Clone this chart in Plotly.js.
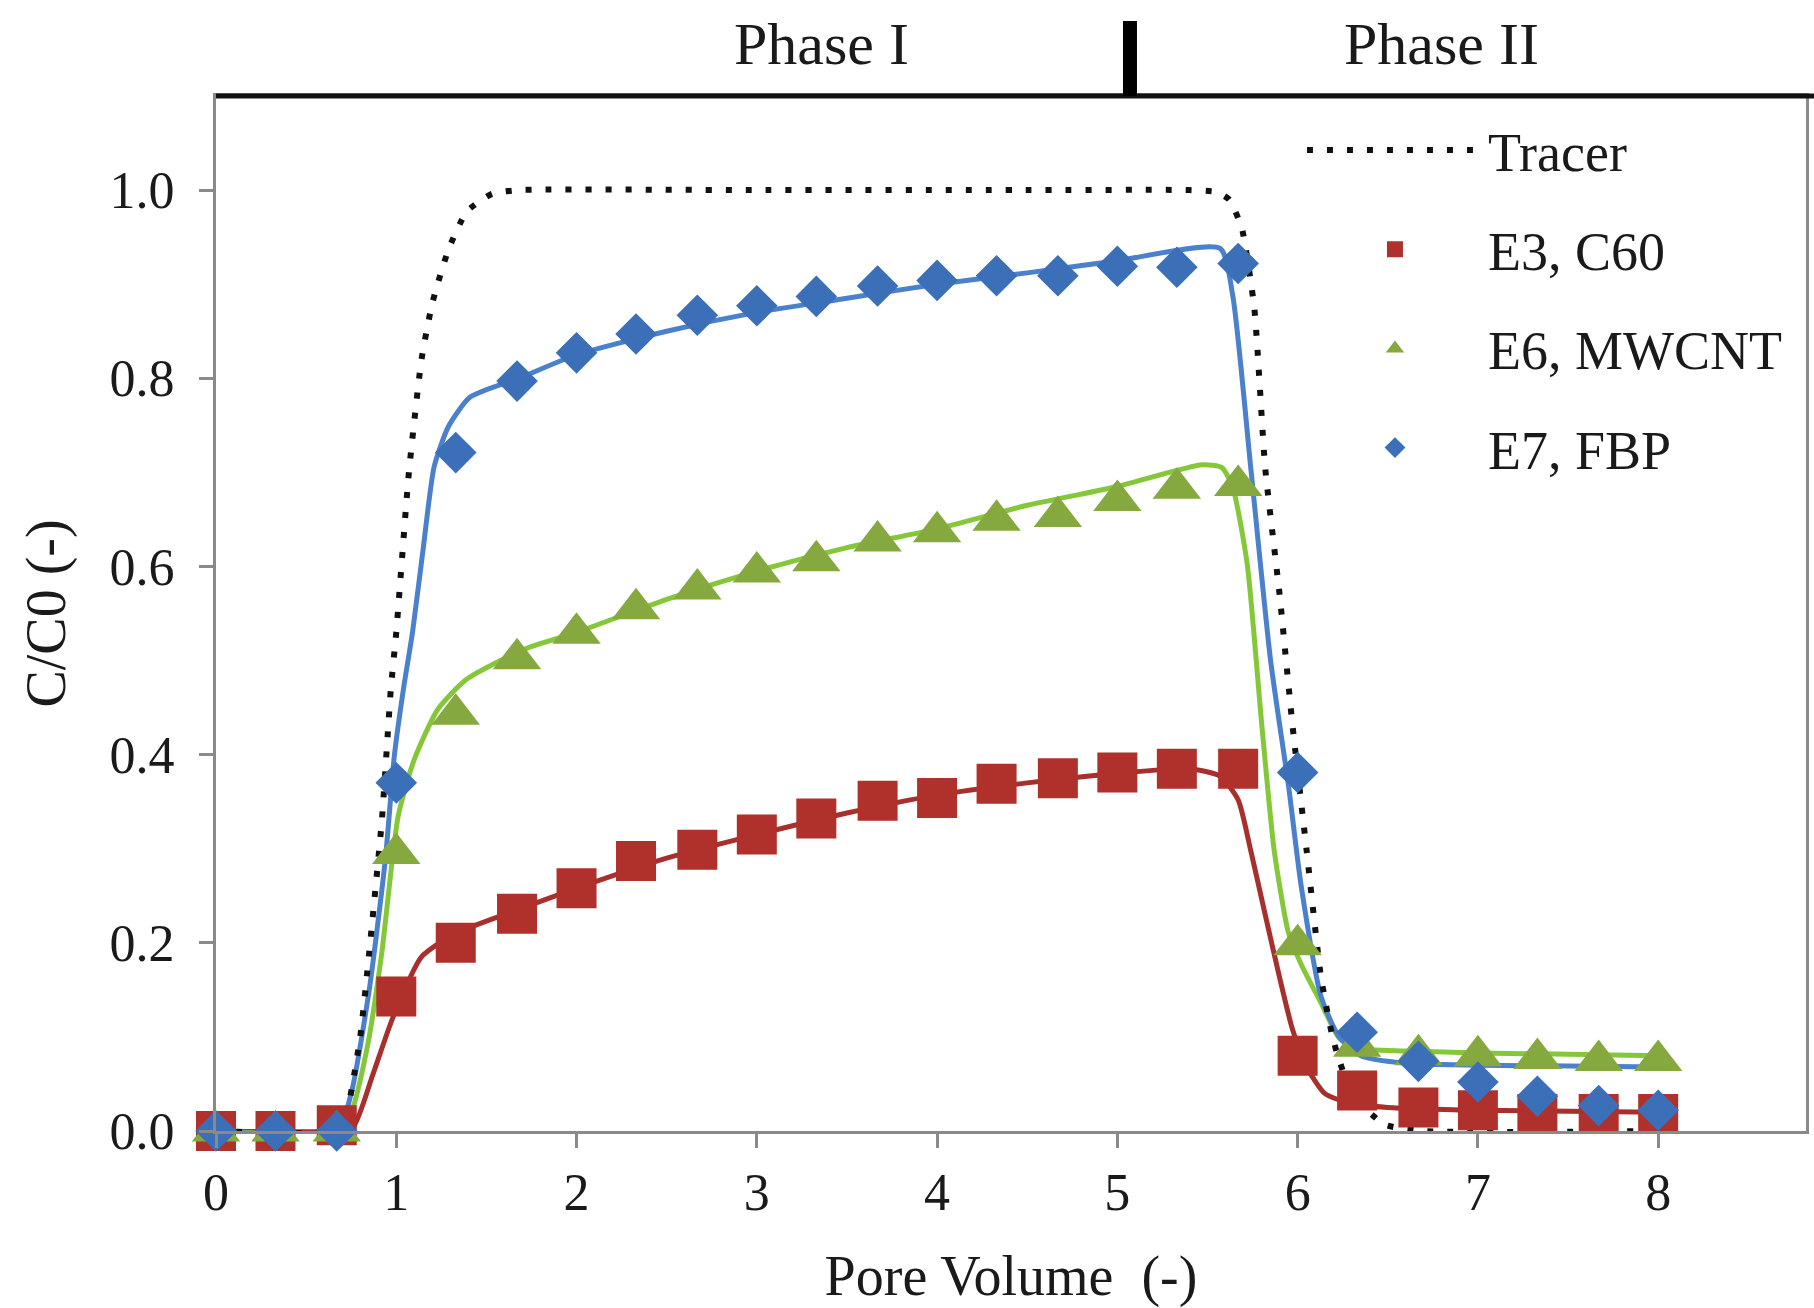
<!DOCTYPE html>
<html>
<head>
<meta charset="utf-8">
<script src="https://cdn.plot.ly/plotly-3.0.1.min.js"></script>
<style>html,body{margin:0;padding:0;background:#fff;}#chart{width:1814px;height:1308px;}</style>
</head>
<body>
<div id="chart"></div>
<script>
// ---- data ----
const poreVolume = [0, 0.33, 0.67, 1, 1.33, 1.67, 2, 2.33, 2.67, 3, 3.33, 3.67, 4, 4.33, 4.67, 5, 5.33, 5.67, 6, 6.33, 6.67, 7, 7.33, 7.67, 8];
const e3C60 = [0, 0, 0.006, 0.143, 0.200, 0.231, 0.258, 0.287, 0.299, 0.315, 0.332, 0.351, 0.354, 0.369, 0.375, 0.381, 0.385, 0.385, 0.080, 0.043, 0.025, 0.022, 0.018, 0.018, 0.018];
const e6MWCNT = [0, 0, 0, 0.295, 0.443, 0.502, 0.529, 0.555, 0.576, 0.594, 0.606, 0.627, 0.637, 0.649, 0.653, 0.670, 0.683, 0.686, 0.198, 0.090, 0.081, 0.080, 0.077, 0.075, 0.075];
const e7FBP = [0, 0, 0, 0.370, 0.721, 0.797, 0.827, 0.847, 0.867, 0.877, 0.887, 0.898, 0.904, 0.909, 0.909, 0.919, 0.918, 0.922, 0.381, 0.105, 0.074, 0.052, 0.037, 0.027, 0.022];

const tracerX = [0, 0.67, 0.72, 0.8, 0.85, 0.92, 0.97, 1.0, 1.07, 1.14, 1.2, 1.29, 1.39, 1.53, 1.68, 3, 4.5, 5.4, 5.55, 5.62, 5.69, 5.76, 5.82, 5.9, 5.97, 6.05, 6.13, 6.2, 6.3, 6.48, 6.7, 8];
const tracerY = [0, 0, 0.015, 0.1, 0.19, 0.33, 0.47, 0.53, 0.70, 0.82, 0.88, 0.937, 0.977, 0.996, 1.0, 1.0, 1.0, 1.0, 0.998, 0.99, 0.96, 0.874, 0.705, 0.57, 0.434, 0.298, 0.163, 0.095, 0.04, 0.007, 0, 0];

const fitE3X = [0, 0.67, 0.76, 0.87, 0.98, 1.14, 1.33, 1.67, 2.0, 2.5, 3.0, 3.5, 4.0, 4.5, 5.0, 5.4, 5.57, 5.67, 5.74, 5.82, 5.9, 5.97, 6.05, 6.15, 6.28, 6.5, 7, 8];
const fitE3Y = [0, 0, 0.004, 0.06, 0.12, 0.185, 0.21, 0.235, 0.258, 0.29, 0.315, 0.338, 0.357, 0.37, 0.38, 0.385, 0.377, 0.352, 0.298, 0.23, 0.163, 0.109, 0.068, 0.04, 0.03, 0.025, 0.022, 0.02];

const fitE6X = [0, 0.67, 0.75, 0.84, 0.92, 1.01, 1.1, 1.23, 1.39, 1.71, 2.0, 2.5, 3.0, 3.5, 4.0, 4.5, 5.0, 5.47, 5.58, 5.64, 5.72, 5.8, 5.87, 5.95, 6.02, 6.13, 6.23, 6.33, 6.6, 7, 8];
const fitE6Y = [0, 0, 0.02, 0.09, 0.19, 0.334, 0.395, 0.448, 0.48, 0.512, 0.53, 0.565, 0.595, 0.62, 0.64, 0.665, 0.685, 0.708, 0.705, 0.684, 0.603, 0.434, 0.298, 0.21, 0.177, 0.136, 0.099, 0.088, 0.085, 0.083, 0.08];

const fitE7X = [0, 0.67, 0.75, 0.85, 0.94, 0.99, 1.04, 1.09, 1.15, 1.21, 1.29, 1.41, 1.68, 2.0, 2.5, 3.0, 3.5, 4.0, 4.5, 5.0, 5.57, 5.64, 5.74, 5.85, 5.95, 6.02, 6.13, 6.23, 6.35, 6.6, 7, 8];
const fitE7Y = [0, 0, 0.04, 0.15, 0.29, 0.40, 0.47, 0.53, 0.62, 0.706, 0.749, 0.78, 0.80, 0.825, 0.85, 0.87, 0.885, 0.90, 0.912, 0.925, 0.938, 0.888, 0.705, 0.50, 0.366, 0.26, 0.143, 0.10, 0.08, 0.072, 0.07, 0.068];

const seriesNames = ["Tracer", "E3, C60", "E6, MWCNT", "E7, FBP"];
const xTicks = [0, 1, 2, 3, 4, 5, 6, 7, 8];
const yTicks = [0, 0.2, 0.4, 0.6, 0.8, 1.0];
const phaseLabels = ["Phase I", "Phase II"];
const phaseBoundary = 5.07;

// ---- styling ----
const FONT = "Liberation Serif, Times New Roman, serif";
const TXT = "#1a1a1a";
const RED = "#b0302c", RED_L = "#a8302c";
const GREEN = "#86a93f", GREEN_L = "#84c83a";
const BLUE = "#3b6fb8", BLUE_L = "#4a80cc";

const traces = [
  {x: fitE3X, y: fitE3Y, mode: "lines", line: {color: RED_L, width: 5, shape: "spline", smoothing: 0.6}, showlegend: false, hoverinfo: "skip"},
  {x: fitE6X, y: fitE6Y, mode: "lines", line: {color: GREEN_L, width: 5, shape: "spline", smoothing: 0.6}, showlegend: false, hoverinfo: "skip"},
  {x: fitE7X, y: fitE7Y, mode: "lines", line: {color: BLUE_L, width: 5, shape: "spline", smoothing: 0.6}, showlegend: false, hoverinfo: "skip"},
  {x: tracerX, y: tracerY, name: seriesNames[0], legendgroup: "g0", mode: "lines", line: {color: "#111", width: 6, dash: "6px,14px", shape: "spline", smoothing: 0.5}},
  {x: poreVolume, y: e3C60, name: seriesNames[1], legendgroup: "g1", mode: "markers", cliponaxis: false, marker: {symbol: "square", size: 40, color: RED}},
  {x: poreVolume, y: e6MWCNT, name: seriesNames[2], legendgroup: "g2", mode: "markers", cliponaxis: false, marker: {symbol: "triangle-up", size: 42, color: GREEN}},
  {x: poreVolume, y: e7FBP, name: seriesNames[3], legendgroup: "g3", mode: "markers", cliponaxis: false, marker: {symbol: "diamond", size: 32, color: BLUE}}
];

const layout = {
  width: 1814, height: 1308,
  margin: {l: 216, r: 8, t: 96, b: 177},
  paper_bgcolor: "#fff", plot_bgcolor: "#fff",
  font: {family: FONT, color: TXT, size: 52},
  showlegend: true,
  legend: {
    x: 0.683, y: 0.988, xanchor: "left", yanchor: "top",
    bgcolor: "rgba(0,0,0,0)", borderwidth: 0,
    font: {family: FONT, size: 54, color: TXT},
    itemwidth: 176, traceorder: "grouped", tracegroupgap: 26
  },
  xaxis: {
    range: [0, 8.82], tickvals: xTicks, ticktext: xTicks.map(String),
    showgrid: false, zeroline: false,
    showline: true, linecolor: "#8a8a8a", linewidth: 3, mirror: true,
    ticks: "outside", ticklen: 14, tickwidth: 3, tickcolor: "#8a8a8a",
    tickfont: {family: FONT, size: 52, color: TXT},
    title: {text: "Pore Volume  (-)", font: {family: FONT, size: 56, color: TXT}, standoff: 36}
  },
  yaxis: {
    range: [0, 1.1], tickvals: yTicks, ticktext: yTicks.map(v => v.toFixed(1)),
    showgrid: false, zeroline: false,
    showline: true, linecolor: "#8a8a8a", linewidth: 3, mirror: true,
    ticks: "outside", ticklen: 14, tickwidth: 3, tickcolor: "#8a8a8a",
    ticklabelstandoff: 14,
    tickfont: {family: FONT, size: 52, color: TXT},
    title: {text: "C/C0 (-)", font: {family: FONT, size: 56, color: TXT}, standoff: 26}
  },
  shapes: [
    {type: "line", xref: "paper", yref: "paper", x0: 0, x1: 1.006, y0: 1, y1: 1, line: {color: "#111", width: 5}},
    {type: "line", xref: "x", yref: "paper", x0: phaseBoundary, x1: phaseBoundary, y0: 1, y1: 1.0725, line: {color: "#000", width: 14}}
  ],
  annotations: [
    {text: phaseLabels[0], xref: "paper", yref: "paper", x: 0.381, y: 1.05, xanchor: "center", yanchor: "middle", showarrow: false, font: {family: FONT, size: 60, color: TXT}},
    {text: phaseLabels[1], xref: "paper", yref: "paper", x: 0.771, y: 1.05, xanchor: "center", yanchor: "middle", showarrow: false, font: {family: FONT, size: 60, color: TXT}}
  ]
};

Plotly.newPlot("chart", traces, layout, {displayModeBar: false, staticPlot: true});
</script>
</body>
</html>
